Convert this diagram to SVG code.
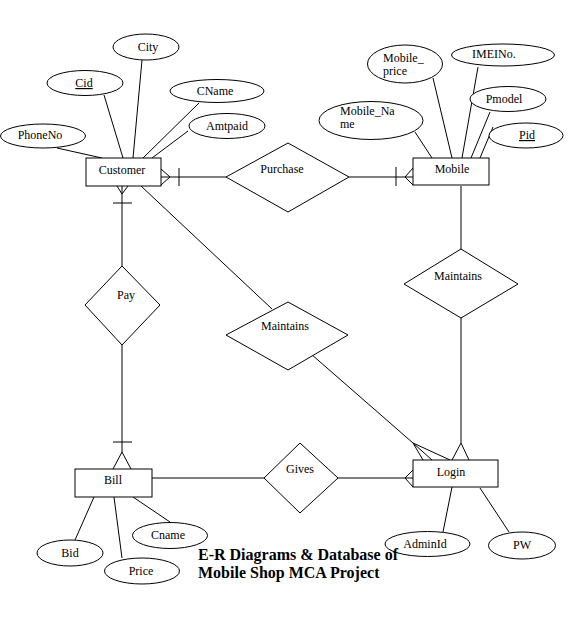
<svg xmlns="http://www.w3.org/2000/svg" width="577" height="619" viewBox="0 0 577 619">
<style>
.s{fill:#fff;stroke:#000;stroke-width:1}
.c line,.c polyline{stroke:#000;stroke-width:1;fill:none}
text{font-family:"Liberation Serif","Times New Roman",serif;font-size:12px;fill:#000}
.m{text-anchor:middle}
.t{font-weight:bold;font-size:16px}
</style>
<rect width="577" height="619" fill="#fff"/>
<g class="c" id="connectors">
<!-- customer attributes -->
<line x1="57" y1="148" x2="102" y2="158"/>
<line x1="104" y1="95" x2="123" y2="158"/>
<line x1="142" y1="60" x2="133" y2="158"/>
<line x1="199" y1="103" x2="143" y2="158"/>
<line x1="188" y1="131" x2="152" y2="158"/>
<!-- mobile attributes -->
<line x1="415" y1="132" x2="432" y2="158"/>
<line x1="433" y1="78" x2="452" y2="158"/>
<line x1="478" y1="67" x2="462" y2="158"/>
<line x1="490" y1="112" x2="471" y2="158"/>
<line x1="493" y1="127" x2="480" y2="158"/>
<!-- Customer - Purchase - Mobile -->
<line x1="161" y1="177" x2="226" y2="177"/>
<polyline points="161,169 170,177 161,185"/>
<line x1="179" y1="168" x2="179" y2="186"/>
<line x1="349" y1="177" x2="413" y2="177"/>
<polyline points="413,168 405,177 413,185"/>
<line x1="396" y1="167" x2="396" y2="186"/>
<!-- Customer - Pay - Bill -->
<line x1="122" y1="186" x2="122" y2="266"/>
<polyline points="117,186 122,194 128,186"/>
<line x1="113" y1="203" x2="132" y2="203"/>
<line x1="122" y1="345" x2="122" y2="452"/>
<polyline points="113,469 122,452 131,469"/>
<line x1="113" y1="442" x2="132" y2="442"/>
<!-- Customer - Maintains - Login -->
<line x1="141" y1="186" x2="272" y2="309"/>
<line x1="311" y1="354" x2="413" y2="443"/>
<line x1="413" y1="443" x2="423" y2="460"/>
<line x1="413" y1="443" x2="432" y2="460"/>
<line x1="413" y1="443" x2="450" y2="460"/>
<!-- Mobile - Maintains - Login -->
<line x1="461" y1="186" x2="461" y2="249"/>
<line x1="461" y1="318" x2="461" y2="443"/>
<polyline points="452,460 461,443 469,460"/>
<!-- Bill - Gives - Login -->
<line x1="152" y1="478" x2="264" y2="478"/>
<line x1="338" y1="478" x2="413" y2="478"/>
<polyline points="413,470 405,478 413,487"/>
<!-- bill attributes -->
<line x1="94" y1="497" x2="75" y2="540"/>
<line x1="114" y1="497" x2="122" y2="558"/>
<line x1="133" y1="497" x2="170" y2="522"/>
<!-- login attributes -->
<line x1="452" y1="487" x2="443" y2="532"/>
<line x1="480" y1="488" x2="509" y2="532"/>
</g>
<g id="customer"><rect class="s" x="86" y="158" width="75" height="28"/><text class="m" x="122" y="174">Customer</text></g>
<g id="mobile"><rect class="s" x="413" y="158" width="76" height="27"/><text class="m" x="452" y="173">Mobile</text></g>
<g id="bill"><rect class="s" x="75" y="469" width="77" height="28"/><text class="m" x="113" y="484">Bill</text></g>
<g id="login"><rect class="s" x="413" y="460" width="85" height="27"/><text class="m" x="451" y="476">Login</text></g>
<g id="purchase"><polygon class="s" points="288,143 349,177 288,212 226,177"/><text class="m" x="282" y="173">Purchase</text></g>
<g id="pay"><polygon class="s" points="122,266 160,305 122,345 85,305"/><text class="m" x="126" y="299">Pay</text></g>
<g id="maintains1"><polygon class="s" points="288,302 348,335 288,370 226,335"/><text class="m" x="285" y="330">Maintains</text></g>
<g id="maintains2"><polygon class="s" points="461,249 518,284 461,318 404,284"/><text class="m" x="458" y="280">Maintains</text></g>
<g id="gives"><polygon class="s" points="300,443 338,478 300,513 264,478"/><text class="m" x="300" y="473">Gives</text></g>
<g id="city"><ellipse class="s" cx="146" cy="47" rx="33" ry="13"/><text class="m" x="148" y="51">City</text></g>
<g id="cid"><ellipse class="s" cx="85" cy="83" rx="38" ry="12.5"/><text class="m" x="84" y="87" text-decoration="underline">Cid</text></g>
<g id="cname"><ellipse class="s" cx="217" cy="91" rx="47" ry="11.5"/><text class="m" x="215" y="95">CName</text></g>
<g id="amtpaid"><ellipse class="s" cx="227" cy="126" rx="38" ry="12.5"/><text class="m" x="227" y="130">Amtpaid</text></g>
<g id="phoneno"><ellipse class="s" cx="43" cy="136" rx="42.5" ry="12"/><text class="m" x="40" y="139">PhoneNo</text></g>
<g id="mobile_price"><ellipse class="s" cx="405" cy="64" rx="37.5" ry="19"/><text x="383" y="62">Mobile_</text><text x="383" y="75">price</text></g>
<g id="imeino"><ellipse class="s" cx="503" cy="55" rx="51.5" ry="11"/><text x="472" y="58">IMEINo.</text></g>
<g id="pmodel"><ellipse class="s" cx="508" cy="99" rx="38" ry="12.5"/><text class="m" x="504" y="103">Pmodel</text></g>
<g id="pid"><ellipse class="s" cx="526" cy="135.5" rx="37" ry="12.5"/><text class="m" x="527" y="139" text-decoration="underline">Pid</text></g>
<g id="mobile_name"><ellipse class="s" cx="371" cy="120.5" rx="52" ry="19"/><text x="340" y="115">Mobile_Na</text><text x="340" y="128">me</text></g>
<g id="bid"><ellipse class="s" cx="70" cy="553" rx="33" ry="13"/><text class="m" x="70" y="557">Bid</text></g>
<g id="price"><ellipse class="s" cx="142" cy="571" rx="37.5" ry="13"/><text class="m" x="141" y="575">Price</text></g>
<g id="cname2"><ellipse class="s" cx="170" cy="535.5" rx="37.5" ry="13"/><text class="m" x="168" y="539">Cname</text></g>
<g id="adminid"><ellipse class="s" cx="427.5" cy="544" rx="42.5" ry="12.5"/><text class="m" x="425" y="548">AdminId</text></g>
<g id="pw"><ellipse class="s" cx="522" cy="545.5" rx="33.5" ry="13.5"/><text class="m" x="522" y="549">PW</text></g>
<g id="title"><text class="t" x="198" y="560">E-R Diagrams &amp; Database of</text><text class="t" x="198" y="578">Mobile Shop MCA Project</text></g>
</svg>
